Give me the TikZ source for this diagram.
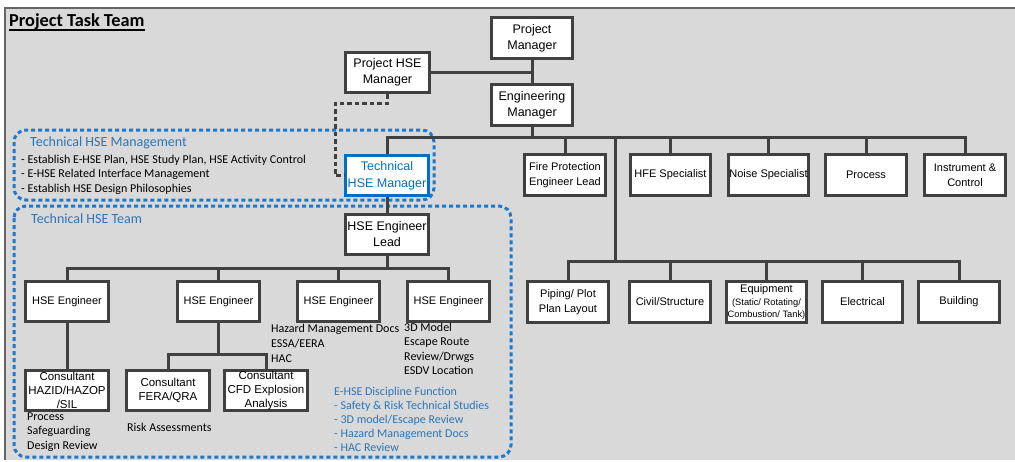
\documentclass[tikz,border=0pt]{standalone}
\usepackage{fontspec}
\setmainfont{Carlito}
\newfontfamily\boxfont{Liberation Sans}
\definecolor{bggray}{HTML}{D9D9D9}
\definecolor{boxline}{HTML}{404040}
\definecolor{hseblue}{HTML}{0070C0}
\definecolor{txtblue}{HTML}{2E75B6}
\definecolor{dashblue}{HTML}{1F78C8}
\tikzset{
  box/.style={draw=boxline, line width=3pt, fill=white, inner sep=0pt, align=center,
    font=\boxfont\fontsize{11}{14.5}\selectfont, text=black},
  bigbox/.style={box, font=\boxfont\fontsize{12.5}{16}\selectfont},
  conn/.style={draw=boxline, line width=3pt},
  dashconn/.style={draw=boxline, line width=3pt, dash pattern=on 4.5pt off 3pt},
  groupbox/.style={draw=dashblue, line width=3pt, dash pattern=on 4pt off 3pt, rounded corners=12pt},
  lbl/.style={inner sep=0pt, anchor=west, align=left, font=\fontsize{12}{14.5}\selectfont},
  bluelbl/.style={lbl, text=txtblue},
}
\begin{document}
\begin{tikzpicture}[x=1pt,y=-1pt]
\useasboundingbox (0,0) rectangle (1015,461);
\fill[bggray] (5,8) rectangle (1015,460);
\draw[line width=1.2pt, boxline!80] (5,460) -- (5,8) -- (1015,8);

% group boxes
\draw[groupbox] (14,130) rectangle (434,200);
\draw[groupbox] (14,206) rectangle (511,457);

% title
\node[inner sep=0pt, anchor=west, font=\bfseries\fontsize{18.3}{21}\selectfont] (title) at (9,22) {Project Task Team};
\draw[line width=1.4pt] ([yshift=-3pt]title.base west) -- ([yshift=-3pt]title.base east);

% top management
\node[bigbox, minimum width=81, minimum height=41] (pm) at (532,38) {Project\\Manager};
\node[bigbox, minimum width=84, minimum height=40] (phm) at (387.5,72.5) {Project HSE\\Manager};
\node[bigbox, minimum width=81, minimum height=41] (em) at (532,105) {Engineering\\Manager};
\node[bigbox, draw=hseblue, text=hseblue, minimum width=83, minimum height=40,
  font=\boxfont\fontsize{12.5}{17}\selectfont] (thm) at (387,175.5) {Technical\\HSE Manager};

% first row of disciplines
\node[box, minimum width=81, minimum height=41] (fp) at (565,175) {Fire Protection\\Engineer Lead};
\node[box, minimum width=80, minimum height=41] (hfe) at (670.5,175) {HFE Specialist};
\node[box, minimum width=80, minimum height=41] (noise) at (768.5,175) {Noise Specialist};
\node[box, minimum width=81, minimum height=41] (proc) at (866,175) {Process};
\node[box, minimum width=81, minimum height=41] (ic) at (965,175) {Instrument \&\\Control};

% second row of disciplines
\node[box, minimum width=81, minimum height=41] (pip) at (568,302) {Piping/ Plot\\Plan Layout};
\node[box, minimum width=81, minimum height=41] (civ) at (670,302) {Civil/Structure};
\node[box, minimum width=80, minimum height=41] (eqp) at (766.5,302)
  {Equipment\\[-2pt]{\fontsize{9.3}{11.5}\selectfont (Static/ Rotating/}\\[-2pt]{\fontsize{9.3}{11.5}\selectfont Combustion/ Tank)}};
\node[box, minimum width=80, minimum height=41] (ele) at (862.5,302) {Electrical};
\node[box, minimum width=81, minimum height=41] (bld) at (959,302) {Building};

% technical HSE team
\node[bigbox, minimum width=83, minimum height=40, font=\boxfont\fontsize{12.5}{16}\selectfont] (lead) at (387,234.5) {HSE Engineer\\Lead};
\node[box, minimum width=83, minimum height=40] (e1) at (67,301.5) {HSE Engineer};
\node[box, minimum width=82, minimum height=40] (e2) at (218.5,301.5) {HSE Engineer};
\node[box, minimum width=82, minimum height=40] (e3) at (338.5,301.5) {HSE Engineer};
\node[box, minimum width=82, minimum height=40] (e4) at (448.5,301.5) {HSE Engineer};
\node[box, minimum width=83, minimum height=40, font=\boxfont\fontsize{11.5}{14}\selectfont] (c1) at (67,390.5) {Consultant\\HAZID/HAZOP\\/SIL};
\node[box, minimum width=83, minimum height=40, font=\boxfont\fontsize{11.5}{14}\selectfont] (c2) at (168,390.5) {Consultant\\FERA/QRA};
\node[box, minimum width=83, minimum height=40, font=\boxfont\fontsize{11.5}{14}\selectfont] (c3) at (266,390.5) {Consultant\\CFD Explosion\\Analysis};

% connectors: management
\draw[conn] (pm) -- (em);
\draw[conn] (phm.east) -- (phm.east -| pm.south);
\coordinate (b1) at (532,137);
\draw[conn] (em.south) -- (b1);
\draw[conn] (thm.north) -- (thm.north |- b1) -- (ic.north |- b1) -- (ic.north);
\foreach \n in {fp,hfe,noise,proc} \draw[conn] (\n.north) -- (\n.north |- b1);
\coordinate (b2) at (615,261);
\draw[conn] (b2 |- b1) -- (b2);
\draw[conn] (pip.north) -- (pip.north |- b2) -- (bld.north |- b2) -- (bld.north);
\foreach \n in {civ,eqp,ele} \draw[conn] (\n.north) -- (\n.north |- b2);

% dashed reporting line
\coordinate (d1) at (335,103);
\draw[dashconn] (phm.south) |- (d1) |- (thm.west);

% connectors: HSE team
\draw[conn] (thm.south) -- (lead.north);
\coordinate (b3) at (387,268);
\draw[conn] (lead.south) -- (b3);
\draw[conn] (e1.north) -- (e1.north |- b3) -- (e4.north |- b3) -- (e4.north);
\foreach \n in {e2,e3} \draw[conn] (\n.north) -- (\n.north |- b3);
\draw[conn] (e1) -- (c1);
\coordinate (b4) at (218.5,354);
\draw[conn] (e2.south) -- (b4);
\draw[conn] (c2.north) -- (c2.north |- b4) -- (c3.north |- b4) -- (c3.north);

% labels
\node[bluelbl, font=\fontsize{14}{16}\selectfont] (tmh) at (30,143) {Technical HSE Management};
\node[lbl] (tmlist) at (21,174.5) {- Establish E-HSE Plan, HSE Study Plan, HSE Activity Control\\- E-HSE Related Interface Management\\- Establish HSE Design Philosophies};
\node[bluelbl, font=\fontsize{14}{16}\selectfont] (tth) at (31,219) {Technical HSE Team};
\node[lbl] (t1) at (27,432) {Process\\Safeguarding\\Design Review};
\node[lbl] (t2) at (127,427) {Risk Assessments};
\node[lbl, font=\fontsize{12}{15}\selectfont] (t3) at (271,343) {Hazard Management Docs\\ESSA/EERA\\HAC};
\node[lbl] (t4) at (404,349) {3D Model\\Escape Route\\Review/Drwgs\\ESDV Location};
\node[bluelbl, font=\fontsize{12}{14}\selectfont] (t5) at (334,419) {E-HSE Discipline Function\\- Safety \& Risk Technical Studies\\- 3D model/Escape Review\\- Hazard Management Docs\\- HAC Review};
\end{tikzpicture}
\end{document}
